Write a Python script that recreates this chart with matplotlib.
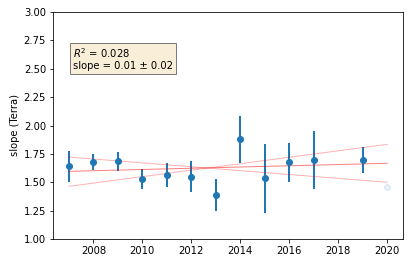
import matplotlib
matplotlib.use('Agg')
import matplotlib.pyplot as plt
import numpy as np

# yearly slopes (Terra) with error bars
years = [2007, 2008, 2009, 2010, 2011, 2012, 2013, 2014, 2015, 2016, 2017, 2019]
slopes = [1.643, 1.676, 1.685, 1.526, 1.561, 1.549, 1.388, 1.881, 1.535, 1.676, 1.696, 1.696]
err_lo = [0.143, 0.068, 0.085, 0.086, 0.106, 0.139, 0.138, 0.209, 0.303, 0.176, 0.258, 0.112]
err_hi = [0.135, 0.070, 0.084, 0.088, 0.109, 0.136, 0.138, 0.203, 0.302, 0.173, 0.258, 0.112]

# excluded year (faded)
out_year = [2020]
out_slope = [1.461]

# fit line and its bounds, values at first / last year
fit_x = [2007, 2020]
fit_mid = [1.596, 1.667]
fit_up = [1.722, 1.500]
fit_lo = [1.464, 1.834]

r2 = 0.028
slope_txt = '0.01 \u00b1 0.02'

fig = plt.figure(figsize=(411/72, 265/72), dpi=72)
ax = fig.add_axes([53/411, 26/265, 350/411, 227/265])

ax.errorbar(years, slopes, yerr=[err_lo, err_hi], fmt='o', color='C0', elinewidth=2)
ax.plot(out_year, out_slope, 'o', color='C0', alpha=0.1)

ax.plot(fit_x, fit_mid, 'r-', lw=1, alpha=0.5)
ax.plot(fit_x, fit_up, 'r-', lw=1, alpha=0.3)
ax.plot(fit_x, fit_lo, 'r-', lw=1, alpha=0.3)

ax.set_ylim(1.0, 3.0)
ax.set_ylabel('slope (Terra)')

txt = '$R^2$ = {0}\nslope = {1}'.format(r2, slope_txt)
ax.text(0.058, 0.85, txt, transform=ax.transAxes, fontsize=10, va='top',
        bbox=dict(boxstyle='square', facecolor='wheat', alpha=0.5))

fig.savefig('out.png', dpi=72)
